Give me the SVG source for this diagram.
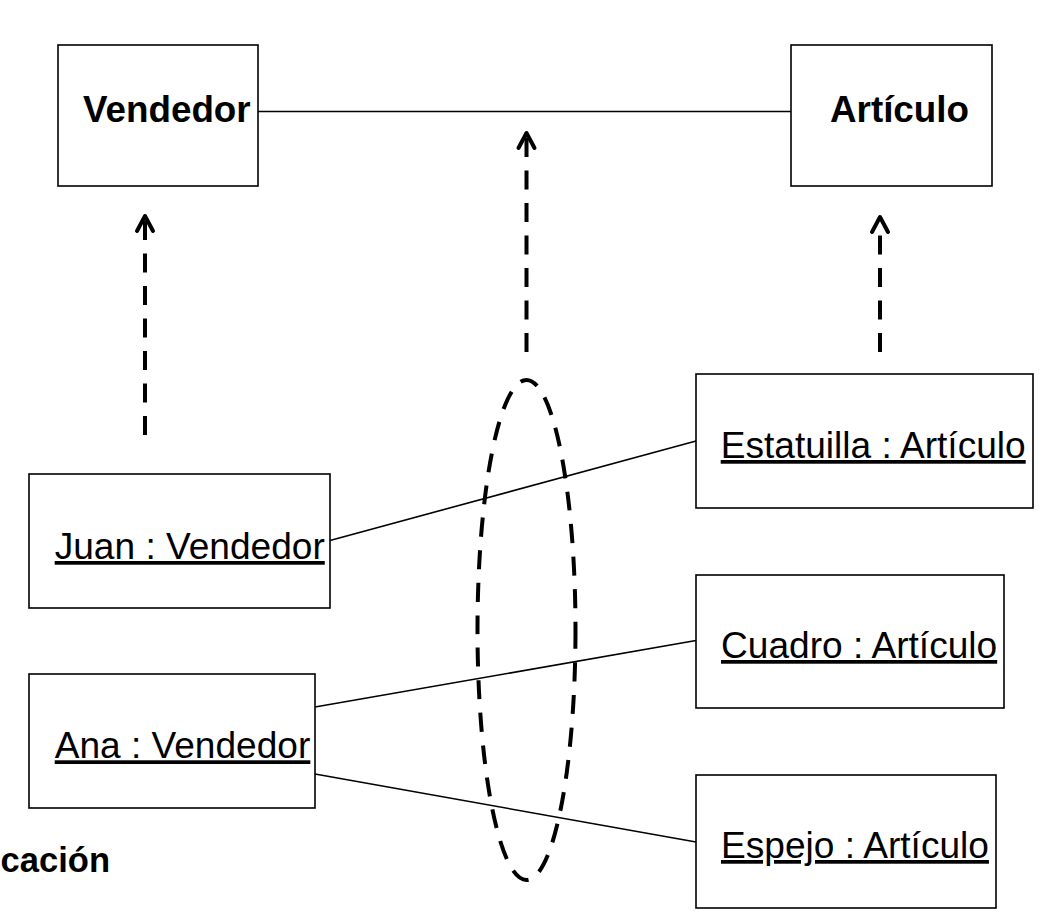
<svg xmlns="http://www.w3.org/2000/svg" width="1045" height="918" viewBox="0 0 1045 918">
<style>
.box{fill:#fff;stroke:#000;stroke-width:1.6}
.lbl{font-family:"Liberation Sans",Arial,sans-serif;font-size:37.1px;fill:#000;text-decoration:underline}
.bold{font-family:"Liberation Sans",Arial,sans-serif;font-size:36.8px;font-weight:bold;fill:#000}
.assoc{fill:none;stroke:#000;stroke-width:1.6}
.dep{fill:none;stroke:#000;stroke-width:4;stroke-dasharray:19 13.5}
</style>
<defs>
<marker id="open" markerUnits="userSpaceOnUse" orient="auto" markerWidth="40" markerHeight="40" refX="0" refY="0" overflow="visible" viewBox="-20 -20 40 40">
<path d="M-10,-8 L5,0 L-10,8" fill="none" stroke="#000" stroke-width="4" stroke-linejoin="round" stroke-linecap="round"/>
</marker>
</defs>
<rect width="1045" height="918" fill="#fff"/>
<g id="connectors">
<line class="assoc" x1="258" y1="111.5" x2="791" y2="111.5"/>
<line class="assoc" x1="330" y1="540.5" x2="696" y2="441"/>
<line class="assoc" x1="315" y1="707" x2="696" y2="640.5"/>
<line class="assoc" x1="315" y1="774" x2="696" y2="842"/>
<path class="dep" d="M145,435 L145,221" marker-end="url(#open)"/>
<path class="dep" d="M526.5,352 L526.5,138" marker-end="url(#open)"/>
<path class="dep" d="M880,352 L880,222" marker-end="url(#open)"/>
</g>
<g id="collaboration">
<ellipse cx="526.5" cy="630" rx="49" ry="250" fill="none" stroke="#000" stroke-width="4" stroke-dasharray="19 13.5"/>
</g>
<g id="vendedor">
<rect class="box" x="58" y="45" width="200" height="141"/>
<text class="bold" x="83" y="121.7">Vendedor</text>
</g>
<g id="articulo">
<rect class="box" x="791" y="45" width="201" height="141"/>
<text class="bold" x="830" y="121.7">Artículo</text>
</g>
<g id="juan">
<rect class="box" x="29" y="474" width="301" height="134"/>
<text class="lbl" x="54.7" y="559">Juan : Vendedor</text>
</g>
<g id="ana">
<rect class="box" x="29" y="674" width="286" height="134"/>
<text class="lbl" x="54.7" y="758.3">Ana : Vendedor</text>
</g>
<g id="estatuilla">
<rect class="box" x="696" y="374" width="337" height="134"/>
<text class="lbl" x="720.7" y="458">Estatuilla : Artículo</text>
</g>
<g id="cuadro">
<rect class="box" x="696" y="575" width="308" height="133"/>
<text class="lbl" x="721" y="658">Cuadro : Artículo</text>
</g>
<g id="espejo">
<rect class="box" x="696" y="775" width="300" height="133"/>
<text class="lbl" x="721" y="858">Espejo : Artículo</text>
</g>
<text class="bold" x="0.5" y="871.7" style="font-size:34.6px">cación</text>
</svg>
